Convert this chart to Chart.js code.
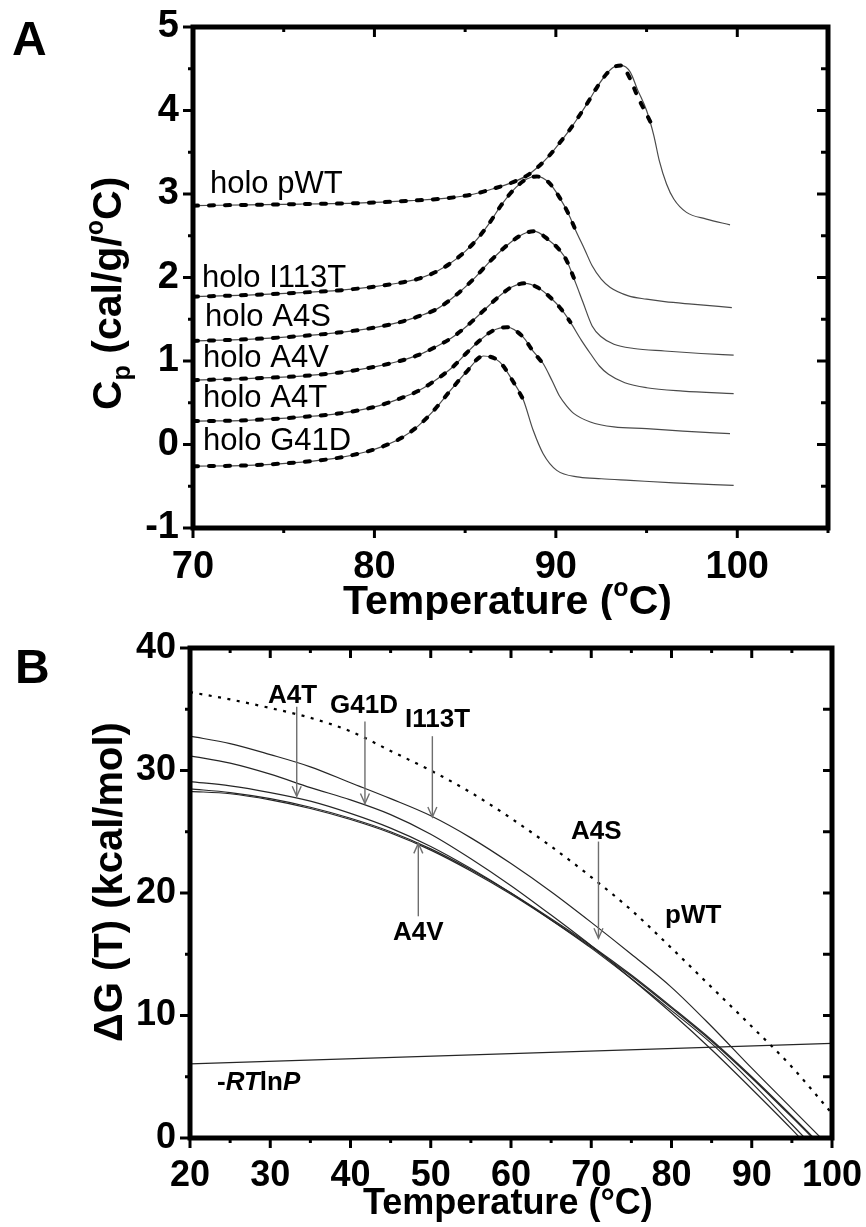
<!DOCTYPE html>
<html><head><meta charset="utf-8">
<script src="https://cdn.jsdelivr.net/npm/chart.js@4.4.0/dist/chart.umd.min.js"></script>
<style>
html,body{margin:0;padding:0;background:#fff;}
#wrap{position:relative;width:866px;height:1227px;overflow:hidden;background:#fff;}
canvas{position:absolute;left:0;}
#cA{top:0;} #cB{top:620px;}
</style></head><body><div id="wrap"><canvas id="cA" width="866" height="620"></canvas><canvas id="cB" width="866" height="607"></canvas></div>
<script>
// ---------------- Panel A : DSC Cp curves ----------------
const xTicksA = [70, 80, 90, 100];
const yTicksA = [-1, 0, 1, 2, 3, 4, 5];
// fitted curves (thin solid)
const tPWT  = [70, 73, 76, 79, 82, 84, 85.5, 86.5, 87.5, 88.4, 89, 89.6, 90.2, 90.8, 91.3, 91.8, 92.3, 92.8, 93.2, 93.6, 94.1, 94.5, 95, 95.4, 95.7, 96.1, 96.5, 97.2, 98.3, 99.6];
const cpPWT = [2.86, 2.87, 2.88, 2.89, 2.92, 2.95, 3.00, 3.06, 3.13, 3.22, 3.32, 3.45, 3.61, 3.78, 3.94, 4.11, 4.29, 4.44, 4.52, 4.54, 4.46, 4.25, 4.00, 3.70, 3.40, 3.12, 2.94, 2.78, 2.70, 2.63];
const tI113T  = [70, 73, 76, 78, 80, 81.5, 82.5, 83.5, 84.5, 85.5, 86.3, 87, 87.8, 88.4, 88.95, 89.6, 90.2, 90.7, 91.1, 91.6, 92, 92.5, 93, 94, 95, 96, 97.5, 99.7];
const cpI113T = [1.77, 1.79, 1.82, 1.845, 1.89, 1.94, 1.99, 2.08, 2.22, 2.42, 2.64, 2.87, 3.08, 3.18, 3.21, 3.14, 2.96, 2.76, 2.56, 2.33, 2.14, 1.98, 1.88, 1.78, 1.74, 1.71, 1.68, 1.64];
const tA4S  = [70, 73, 76, 78, 80, 81.4, 82.5, 83.5, 84.5, 85.5, 86.4, 87.5, 88.2, 88.8, 89.6, 90.2, 90.6, 91.1, 91.5, 92, 92.5, 93.2, 94.3, 96, 98, 99.8];
const cpA4S = [1.24, 1.26, 1.30, 1.34, 1.40, 1.465, 1.54, 1.63, 1.79, 1.99, 2.20, 2.42, 2.52, 2.555, 2.45, 2.33, 2.20, 1.93, 1.70, 1.42, 1.29, 1.20, 1.15, 1.12, 1.09, 1.07];
const tA4V  = [70, 73, 76, 78, 80, 81.4, 82.4, 83.2, 84.2, 85.1, 86, 86.9, 87.6, 88.3, 89, 89.7, 90.3, 90.8, 91.4, 91.9, 92.4, 92.9, 93.8, 95, 97, 99.8];
const cpA4V = [0.77, 0.79, 0.82, 0.86, 0.93, 1.00, 1.07, 1.15, 1.27, 1.42, 1.60, 1.78, 1.89, 1.93, 1.88, 1.76, 1.62, 1.465, 1.25, 1.09, 0.94, 0.84, 0.74, 0.68, 0.64, 0.61];
const tA4T  = [70, 73, 76, 78, 80, 81.4, 82.4, 83.2, 84.3, 85.05, 85.8, 86.5, 87.3, 88.2, 88.7, 89.3, 89.8, 90.2, 90.6, 91, 91.9, 93.2, 95, 97, 99.6];
const cpA4T = [0.28, 0.29, 0.33, 0.37, 0.45, 0.55, 0.64, 0.745, 0.925, 1.09, 1.245, 1.36, 1.405, 1.285, 1.13, 0.97, 0.76, 0.58, 0.46, 0.37, 0.27, 0.21, 0.19, 0.16, 0.13];
const tG41D  = [70, 73, 76, 78, 79.5, 80.5, 81.5, 82.4, 83.2, 84.2, 85.05, 86, 86.9, 87.6, 88.2, 88.75, 89.3, 90.05, 91.3, 92.5, 94.1, 96.5, 99.8];
const cpG41D = [-0.26, -0.25, -0.21, -0.16, -0.09, -0.02, 0.08, 0.22, 0.39, 0.65, 0.865, 1.06, 0.99, 0.77, 0.54, 0.17, -0.11, -0.31, -0.39, -0.41, -0.43, -0.46, -0.49];
// experimental data (thick dashes)
const tPWTd  = [70, 73, 76, 79, 82, 84, 85.5, 86.5, 87.5, 88.4, 89, 89.6, 90.2, 90.8, 91.3, 91.8, 92.3, 92.8, 93.2, 93.6, 94.07, 94.5, 94.99, 95.36];
const cpPWTd = [2.86, 2.87, 2.88, 2.89, 2.92, 2.95, 3.00, 3.06, 3.13, 3.22, 3.32, 3.45, 3.61, 3.78, 3.94, 4.11, 4.29, 4.44, 4.52, 4.54, 4.39, 4.17, 3.96, 3.80];
const tI113Td  = [70, 73, 76, 78, 80, 81.5, 82.5, 83.5, 84.5, 85.5, 86.3, 87, 87.8, 88.4, 88.95, 89.6, 90.2, 90.7, 91.1];
const cpI113Td = [1.77, 1.79, 1.82, 1.845, 1.89, 1.94, 1.99, 2.08, 2.22, 2.42, 2.64, 2.87, 3.08, 3.18, 3.21, 3.14, 2.96, 2.76, 2.56];
const tA4Sd  = [70, 73, 76, 78, 80, 81.4, 82.5, 83.5, 84.5, 85.5, 86.4, 87.5, 88.2, 88.8, 89.6, 90.2, 90.6, 91.0];
const cpA4Sd = [1.24, 1.26, 1.30, 1.34, 1.40, 1.465, 1.54, 1.63, 1.79, 1.99, 2.20, 2.42, 2.52, 2.555, 2.45, 2.33, 2.20, 1.99];
const tA4Vd  = [70, 73, 76, 78, 80, 81.4, 82.4, 83.2, 84.2, 85.1, 86, 86.9, 87.6, 88.3, 89, 89.7, 90.3, 90.8];
const cpA4Vd = [0.77, 0.79, 0.82, 0.86, 0.93, 1.00, 1.07, 1.15, 1.27, 1.42, 1.60, 1.78, 1.89, 1.93, 1.88, 1.76, 1.62, 1.465];
const tA4Td  = [70, 73, 76, 78, 80, 81.4, 82.4, 83.2, 84.3, 85.05, 85.8, 86.5, 87.3, 88.2, 88.7, 89.3, 89.5];
const cpA4Td = [0.28, 0.29, 0.33, 0.37, 0.45, 0.55, 0.64, 0.745, 0.925, 1.09, 1.245, 1.36, 1.405, 1.285, 1.13, 0.97, 0.93];
const tG41Dd  = [70, 73, 76, 78, 79.5, 80.5, 81.5, 82.4, 83.2, 84.2, 85.05, 86, 86.9, 87.6, 88.2];
const cpG41Dd = [-0.26, -0.25, -0.21, -0.16, -0.09, -0.02, 0.08, 0.22, 0.39, 0.65, 0.865, 1.06, 0.99, 0.77, 0.54];

// ---------------- Panel B : stability curves ----------------
const xTicksB = [20, 30, 40, 50, 60, 70, 80, 90, 100];
const yTicksB = [0, 10, 20, 30, 40];
const tB     = [20, 25, 30, 35, 40, 45, 50, 55, 60, 65, 70, 75, 80, 85, 90, 95, 100];
const gPWT   = [36.4, 35.8, 35.1, 34.3, 33.2, 31.6, 30.0, 28.2, 26.1, 23.8, 21.3, 18.6, 15.5, 12.3, 9.1, 5.8, 2.0];
const gI113T = [32.8, 32.2, 31.3, 30.3, 29.0, 27.7, 26.3, 24.5, 22.4, 20.1, 17.6, 15.0, 12.3, 9.1, 5.7, 2.4, -0.9];
const gG41D  = [31.2, 30.6, 29.7, 28.6, 27.6, 26.4, 24.8, 22.8, 20.6, 18.2, 15.7, 13.0, 10.2, 7.2, 4.0, 0.7, -2.8];
const gA4T   = [29.1, 28.75, 28.2, 27.5, 26.5, 25.3, 23.8, 22.0, 20.0, 17.8, 15.5, 13.0, 10.4, 7.7, 4.5, 1.1, -2.3];
const gA4S   = [28.5, 28.2, 27.7, 27.0, 26.1, 25.0, 23.6, 21.9, 20.0, 17.9, 15.7, 13.3, 10.7, 8.0, 5.0, 1.8, -1.5];
const gA4V   = [28.3, 28.1, 27.6, 26.9, 26.0, 24.9, 23.5, 21.8, 19.9, 17.8, 15.6, 13.2, 10.6, 7.9, 4.9, 1.7, -1.6];
const tRTlnP = [20, 100];
const gRTlnP = [6.05, 7.72];
// annotation arrows: temperature, start, tip (kcal/mol)
const arrowT    = [33.3, 41.8, 50.2, 70.9, 48.45];
const arrowFrom = [35.2, 34.0, 32.8, 24.2, 18.1];
const arrowTo   = [27.9, 27.3, 26.2, 16.3, 24.05];

const FONT = '"Liberation Sans", Arial, Helvetica, sans-serif';
const pts = (t, v) => t.map((x, i) => ({x: x, y: v[i]}));

function fitDs(t, v) { return {data: pts(t, v), borderColor: '#4a4a4a', borderWidth: 1.2, pointRadius: 0, cubicInterpolationMode: 'monotone', fill: false, order: 2}; }
function datDs(t, v) { return {data: pts(t, v), borderColor: '#000', borderWidth: 4, borderDash: [5, 11], borderCapStyle: 'round', pointRadius: 0, cubicInterpolationMode: 'monotone', fill: false, order: 1}; }

function drawRich(ctx, x, y, segs, rot) {
  ctx.save(); ctx.translate(x, y); if (rot) ctx.rotate(rot);
  ctx.textBaseline = 'alphabetic'; ctx.textAlign = 'left'; ctx.fillStyle = '#000';
  let cx = 0;
  for (const s of segs) { ctx.font = s.f; ctx.fillText(s.t, cx, s.dy || 0); cx += ctx.measureText(s.t).width; }
  ctx.restore();
}

function frameTicks(o) {
  return { id: 'frameTicks', afterDraw(chart) {
    const ctx = chart.ctx, a = chart.chartArea, xs = chart.scales.x, ys = chart.scales.y;
    ctx.save(); ctx.strokeStyle = '#000'; ctx.lineWidth = o.tickW; ctx.lineCap = 'butt';
    const ln = (x1, y1, x2, y2) => { ctx.beginPath(); ctx.moveTo(x1, y1); ctx.lineTo(x2, y2); ctx.stroke(); };
    xs.ticks.forEach(t => {
      const p = xs.getPixelForValue(t.value);
      const maj = o.majX.includes(t.value);
      ln(p, a.bottom, p, a.bottom + (maj ? o.major : o.minor));
      ln(p, a.top, p, a.top + (maj ? o.major : o.minor));
    });
    ys.ticks.forEach(t => {
      const p = ys.getPixelForValue(t.value);
      const maj = o.majY.includes(t.value);
      ln(a.left - (maj ? o.major : o.minor), p, a.left, p);
      ln(a.right - (maj ? o.rmajor : o.rminor), p, a.right, p);
    });
    ctx.lineWidth = o.frameW; ctx.lineJoin = 'miter';
    ctx.strokeRect(a.left, a.top, a.right - a.left, a.bottom - a.top);
    ctx.restore();
    if (o.extra) o.extra(chart);
  }};
}

function makeScales(xmin, xmax, xstep, xlab, ymin, ymax, ystep, ylab, yW, xH, fs, xpad, ypad) {
  return {
    x: { type: 'linear', min: xmin, max: xmax, position: 'bottom',
      ticks: { stepSize: xstep, padding: xpad, color: '#000', maxRotation: 0, autoSkip: false,
        font: {family: FONT, size: fs, weight: 'bold'},
        callback: v => xlab.includes(v) ? String(v) : '' },
      grid: { display: false, drawTicks: false }, border: { display: false },
      afterFit: s => { s.height = xH; s.paddingLeft = 0; s.paddingRight = 0; } },
    y: { type: 'linear', min: ymin, max: ymax, position: 'left',
      ticks: { stepSize: ystep, padding: ypad, color: '#000', autoSkip: false,
        font: {family: FONT, size: fs, weight: 'bold'},
        callback: v => ylab.includes(v) ? String(v) : '' },
      grid: { display: false, drawTicks: false }, border: { display: false },
      afterFit: s => { s.width = yW; s.paddingTop = 0; s.paddingBottom = 0; } }
  };
}

// ---------- Chart A ----------
const labA = [
  ['holo pWT', 210, 193], ['holo I113T', 202, 287], ['holo A4S', 205, 326],
  ['holo A4V', 203, 367], ['holo A4T', 203, 407], ['holo G41D', 203, 450]
];
new Chart(document.getElementById('cA'), {
  type: 'line',
  data: { datasets: [
    datDs(tPWTd, cpPWTd), datDs(tI113Td, cpI113Td), datDs(tA4Sd, cpA4Sd), datDs(tA4Vd, cpA4Vd), datDs(tA4Td, cpA4Td), datDs(tG41Dd, cpG41Dd),
    fitDs(tPWT, cpPWT), fitDs(tI113T, cpI113T), fitDs(tA4S, cpA4S), fitDs(tA4V, cpA4V), fitDs(tA4T, cpA4T), fitDs(tG41D, cpG41D)
  ]},
  options: {
    responsive: false, animation: false, devicePixelRatio: 1,
    layout: { padding: { left: 0, top: 27, right: 38, bottom: 0 } },
    plugins: { legend: { display: false }, tooltip: { enabled: false } },
    scales: makeScales(70, 105, 5, xTicksA, -1, 5, 0.5, yTicksA, 193, 92, 38, 17, 14)
  },
  plugins: [frameTicks({ tickW: 3, major: 10, minor: 5, rmajor: 11, rminor: 7, frameW: 5,
    majX: xTicksA, majY: yTicksA,
    extra(chart) {
      const ctx = chart.ctx;
      labA.forEach(l => drawRich(ctx, l[1], l[2], [{t: l[0], f: '31px ' + FONT}]));
      drawRich(ctx, 12, 55, [{t: 'A', f: 'bold 48px ' + FONT}]);
      const B = 'bold 41px ' + FONT, S = 'bold 25px ' + FONT;
      drawRich(ctx, 343, 614, [{t: 'Temperature (', f: B}, {t: 'o', f: S, dy: -18}, {t: 'C)', f: B}]);
      drawRich(ctx, 121, 410, [{t: 'C', f: B}, {t: 'p', f: S, dy: 9}, {t: ' (cal/g/', f: B}, {t: 'o', f: S, dy: -18}, {t: 'C)', f: B}], -Math.PI / 2);
    }
  })]
});

// ---------- Chart B ----------
const OFF = 620;
const labB = [
  ['A4T', 268, 703], ['G41D', 330, 713], ['I113T', 405, 727], ['A4S', 571, 839], ['pWT', 665, 923], ['A4V', 393, 940]
];
new Chart(document.getElementById('cB'), {
  type: 'line',
  data: { datasets: [
    {data: pts(tB, gPWT), borderColor: '#000', borderWidth: 2.2, borderDash: [3, 6.5], pointRadius: 0, cubicInterpolationMode: 'monotone', fill: false},
    {data: pts(tB, gI113T), borderColor: '#262626', borderWidth: 1.2, pointRadius: 0, cubicInterpolationMode: 'monotone', fill: false},
    {data: pts(tB, gG41D), borderColor: '#262626', borderWidth: 1.2, pointRadius: 0, cubicInterpolationMode: 'monotone', fill: false},
    {data: pts(tB, gA4T), borderColor: '#262626', borderWidth: 1.2, pointRadius: 0, cubicInterpolationMode: 'monotone', fill: false},
    {data: pts(tB, gA4S), borderColor: '#262626', borderWidth: 1.2, pointRadius: 0, cubicInterpolationMode: 'monotone', fill: false},
    {data: pts(tB, gA4V), borderColor: '#262626', borderWidth: 1.2, pointRadius: 0, cubicInterpolationMode: 'monotone', fill: false},
    {data: pts(tRTlnP, gRTlnP), borderColor: '#262626', borderWidth: 1.2, pointRadius: 0, fill: false}
  ]},
  options: {
    responsive: false, animation: false, devicePixelRatio: 1,
    layout: { padding: { left: 0, top: 28, right: 34, bottom: 0 } },
    plugins: { legend: { display: false }, tooltip: { enabled: false } },
    scales: makeScales(20, 100, 5, xTicksB, 0, 40, 5, yTicksB, 190, 89, 36, 16, 14)
  },
  plugins: [frameTicks({ tickW: 3, major: 10, minor: 5, rmajor: 9, rminor: 9, frameW: 5,
    majX: xTicksB, majY: yTicksB,
    extra(chart) {
      const ctx = chart.ctx, xs = chart.scales.x, ys = chart.scales.y;
      // arrows
      ctx.save(); ctx.strokeStyle = '#6e6e6e'; ctx.lineWidth = 1.4;
      arrowT.forEach((t, i) => {
        const x = xs.getPixelForValue(t), y1 = ys.getPixelForValue(arrowFrom[i]), y2 = ys.getPixelForValue(arrowTo[i]);
        const d = Math.sign(y2 - y1);
        ctx.beginPath(); ctx.moveTo(x, y1); ctx.lineTo(x, y2); ctx.stroke();
        ctx.beginPath(); ctx.moveTo(x - 4.5, y2 - d * 10); ctx.lineTo(x, y2); ctx.lineTo(x + 4.5, y2 - d * 10); ctx.stroke();
      });
      ctx.restore();
      labB.forEach(l => drawRich(ctx, l[1], l[2] - OFF, [{t: l[0], f: 'bold 26px ' + FONT}]));
      drawRich(ctx, 217, 1090 - OFF, [{t: '-', f: 'bold 26px ' + FONT}, {t: 'RT', f: 'italic bold 26px ' + FONT}, {t: 'ln', f: 'bold 26px ' + FONT}, {t: 'P', f: 'italic bold 26px ' + FONT}]);
      drawRich(ctx, 15, 683 - OFF, [{t: 'B', f: 'bold 48px ' + FONT}]);
      drawRich(ctx, 363, 1214 - OFF, [{t: 'Temperature (°C)', f: 'bold 36px ' + FONT}]);
      drawRich(ctx, 122, 1042 - OFF, [{t: 'ΔG (T) (kcal/mol)', f: 'bold 40px ' + FONT}], -Math.PI / 2);
    }
  })]
});
</script>
</body></html>
